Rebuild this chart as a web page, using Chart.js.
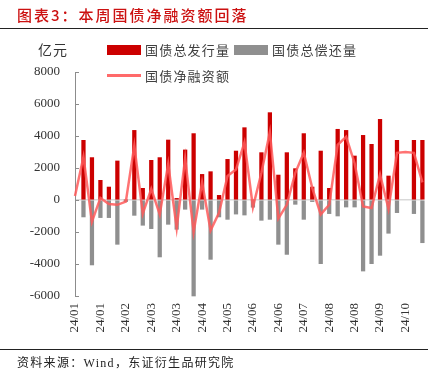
<!DOCTYPE html>
<html><head><meta charset="utf-8">
<script src="https://cdn.jsdelivr.net/npm/chart.js@4.4.1/dist/chart.umd.min.js"></script>
<style>
html,body{margin:0;padding:0;background:#fff;}
#wrap{position:relative;width:445px;height:374px;overflow:hidden;font-family:"Noto Sans CJK SC",sans-serif;}
canvas{position:absolute;left:0;top:0;}
.t{position:absolute;white-space:nowrap;line-height:1;}
.sw{position:absolute;}
</style></head><body>
<div id="wrap">
<canvas id="c" width="445" height="374"></canvas>
<div class="t" style="left:17px;top:7px;font-size:15px;color:#cc1111;letter-spacing:2px;font-weight:500">图表3：本周国债净融资额回落</div>
<div style="position:absolute;left:0;top:28px;width:428px;height:1px;background:#222"></div>
<div class="t" style="left:38px;top:42px;font-size:14px;color:#333;letter-spacing:1px">亿元</div>
<div class="sw" style="left:107px;top:45px;width:34px;height:10px;background:#cc0000"></div>
<div class="t" style="left:145px;top:43px;font-size:13px;color:#404040;letter-spacing:1.2px">国债总发行量</div>
<div class="sw" style="left:234px;top:45px;width:34px;height:10px;background:#8f8f8f"></div>
<div class="t" style="left:272px;top:43px;font-size:13px;color:#404040;letter-spacing:1.2px">国债总偿还量</div>
<div class="sw" style="left:107px;top:74px;width:34px;height:2.5px;background:rgba(255,90,90,0.9)"></div>
<div class="t" style="left:145px;top:69px;font-size:13px;color:#404040;letter-spacing:1.2px">国债净融资额</div>
<div style="position:absolute;left:0;top:349px;width:428px;height:1px;background:#222"></div>
<div class="t" style="left:17px;top:357px;font-size:12px;color:#222;letter-spacing:1.3px;font-family:'Liberation Serif','Noto Sans CJK SC',serif">资料来源：Wind，东证衍生品研究院</div>
</div>
<script>
// weekly categories (yy/mm), 2024
const categories = [
 '24/01','24/01','24/01','24/01',
 '24/02','24/02','24/02','24/02',
 '24/03','24/03','24/03','24/03','24/03',
 '24/04','24/04','24/04','24/04',
 '24/05','24/05','24/05','24/05',
 '24/06','24/06','24/06','24/06','24/06',
 '24/07','24/07','24/07','24/07',
 '24/08','24/08','24/08','24/08',
 '24/09','24/09','24/09','24/09','24/09',
 '24/10','24/10','24/10'
];
// 国债总发行量 (亿元)
const issuance = [null,3730,2650,1230,810,2440,0,4350,730,2480,2650,3750,100,3130,4150,1600,1770,290,2540,3060,4520,0,2960,5460,1560,2960,1960,4150,810,3060,730,4420,4350,2750,4040,3480,5040,1500,3730,null,3730,3730];
// 国债总偿还量 (亿元, negative)
const repayment = [null,-1060,-4060,-1100,-1100,-2770,-100,-960,-1580,-1790,-3560,-1520,-1830,-580,-6000,-580,-3710,-1060,-1210,-880,-940,-450,-1270,-1210,-2770,-3400,-270,-1210,-100,-3980,-850,-1000,-440,-440,-4440,-3980,-3460,-2080,-790,null,-850,-2670];
// 国债净融资额 (亿元)
const netFinancing = [250,2700,-1350,130,-250,-300,-100,3400,-850,700,-900,2250,-1750,2600,-2000,1100,-1900,-800,1500,1900,3600,-450,1700,4250,-1150,-300,1700,2950,750,-900,-300,3450,3950,2300,-400,-500,1600,-550,2950,3000,2950,1100];
const yTicks = [8000,6000,4000,2000,0,-2000,-4000,-6000];
const labelEvery = 3;

const innerTicks = {
  id:'innerTicks',
  afterDraw(chart){
    const y = chart.scales.y, ctx = chart.ctx, x0 = chart.chartArea.left;
    ctx.save();
    ctx.strokeStyle = '#8c8c8c'; ctx.lineWidth = 1;
    yTicks.forEach(v=>{
      const py = Math.round(y.getPixelForValue(v)) + 0.5;
      ctx.beginPath(); ctx.moveTo(x0, py); ctx.lineTo(x0 + 4, py); ctx.stroke();
    });
    ctx.restore();
  }
};

new Chart(document.getElementById('c'), {
  data: {
    labels: categories,
    datasets: [
      {type:'line', label:'国债净融资额', data: netFinancing, borderColor:'rgba(255,90,90,0.85)', borderWidth:2.5, pointRadius:0, tension:0, order:0, clip:false},
      {type:'bar', label:'国债总发行量', data: issuance, backgroundColor:'#cc0000', barThickness:3.6, grouped:false, order:1, clip:false},
      {type:'bar', label:'国债总偿还量', data: repayment, backgroundColor:'#8f8f8f', barThickness:3.6, grouped:false, order:2, clip:false}
    ]
  },
  options: {
    responsive:false, animation:false, devicePixelRatio:1,
    layout:{padding:{top:72, left:0, right:22, bottom:28}},
    plugins:{legend:{display:false}, tooltip:{enabled:false}},
    scales:{
      x:{
        offset:false,
        grid:{display:false, drawTicks:false},
        border:{display:false},
        ticks:{autoSkip:false, maxRotation:90, minRotation:90, padding:7,
          color:'#333', font:{family:'Liberation Serif', size:13},
          callback:function(v, i){ return i % labelEvery === 0 ? categories[i] : ''; }},
        afterFit(s){ s.height = 50; }
      },
      y:{
        min:-6000, max:8000,
        afterBuildTicks(s){ s.ticks = yTicks.map(v=>({value:v})); },
        grid:{drawTicks:false, lineWidth:1.5, color:(c)=> (c.tick && c.tick.value === 0) ? '#d9d9d9' : 'rgba(0,0,0,0)'},
        border:{display:true, color:'#8c8c8c', width:1},
        ticks:{padding:15, color:'#333', font:{family:'Liberation Serif', size:13},
          callback:(v)=> String(v)},
        afterFit(s){ s.width = 75; }
      }
    }
  },
  plugins:[innerTicks]
});
</script>
</body></html>
